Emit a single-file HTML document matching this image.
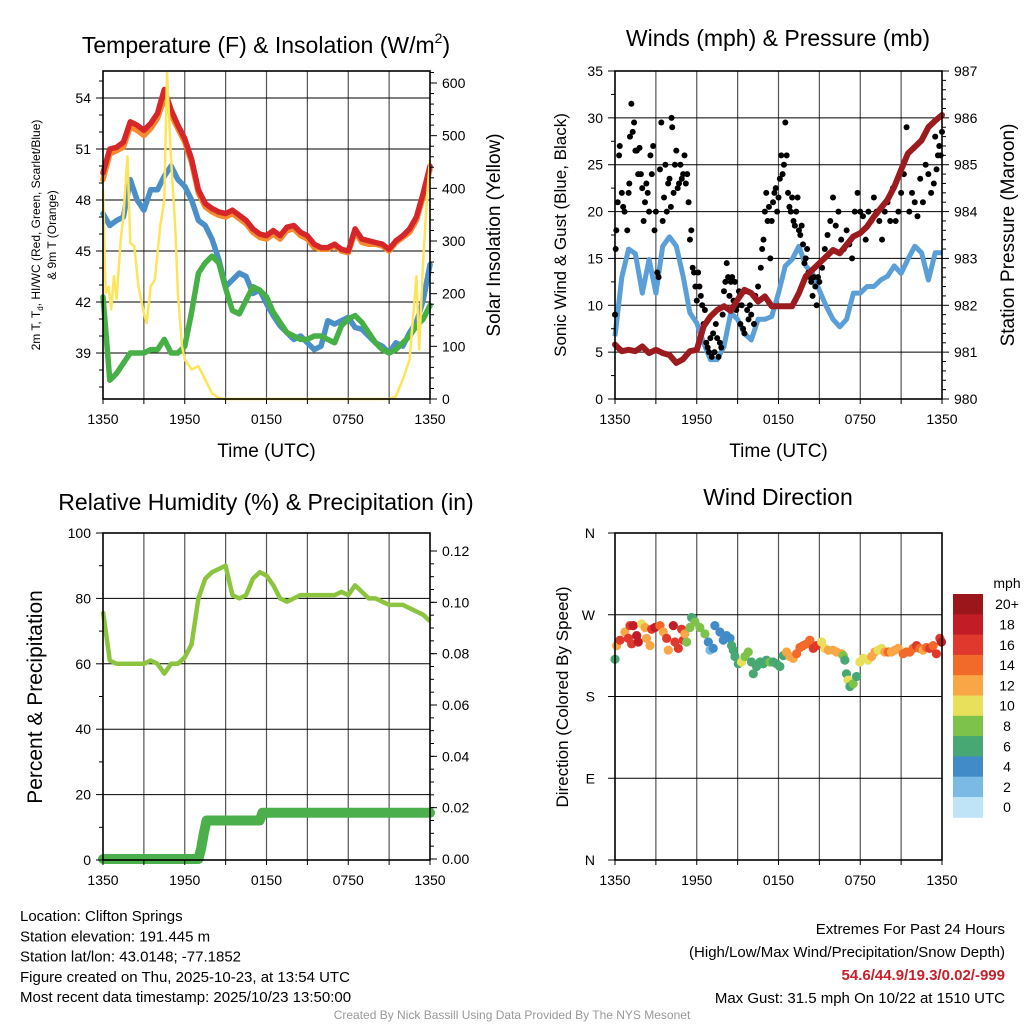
<!DOCTYPE html>
<html><head><meta charset="utf-8"><style>
html,body{margin:0;padding:0;background:#fff;}
svg{display:block;font-family:"Liberation Sans",Arial,sans-serif;}
</style></head><body>
<svg id="chart" width="1024" height="1024" viewBox="0 0 1024 1024" xmlns="http://www.w3.org/2000/svg"></svg>
<script>
// ---------- DATA ----------
const halfHours = [0,0.5,1,1.5,2,2.5,3,3.5,4,4.5,5,5.5,6,6.5,7,7.5,8,8.5,9,9.5,10,10.5,11,11.5,12,12.5,13,13.5,14,14.5,15,15.5,16,16.5,17,17.5,18,18.5,19,19.5,20,20.5,21,21.5,22,22.5,23,23.5,24];
const timeTickHours = [0,6,12,18,24];
const timeTickLabels = ["1350","1950","0150","0750","1350"];
const tempRed = [49.6,51,51.1,51.4,52.6,52.4,52.1,52.5,53.1,54.5,53.3,52.4,51.6,50.4,48.6,47.8,47.5,47.3,47.2,47.4,47.1,46.8,46.3,46.0,45.9,46.2,45.9,46.4,46.5,46.1,45.9,45.4,45.2,45.2,45.4,45.1,45.0,46.3,45.7,45.6,45.5,45.4,45.1,45.6,45.9,46.3,47.0,48.4,50.0];
const tempOrange = [49.2,50.7,50.9,51.1,52.3,52.1,51.8,52.2,52.8,54.0,53.0,52.2,51.4,50.2,48.4,47.6,47.3,47.1,47.0,47.2,46.9,46.6,46.1,45.8,45.7,46.0,45.7,46.2,46.3,45.9,45.7,45.2,45.1,45.1,45.3,45.0,44.9,46.1,45.5,45.4,45.4,45.3,45.0,45.5,45.8,46.1,46.8,48.2,49.8];
const tempBlue = [47.2,46.5,46.8,47.0,49.2,48.0,47.4,48.6,48.6,49.4,50.0,49.2,48.8,48.0,46.8,46.5,45.7,44.5,42.9,43.3,43.7,43.5,42.5,42.7,41.9,41.2,40.6,40.2,39.8,40.0,39.6,39.2,39.4,40.9,40.7,40.9,41.1,40.5,40.4,40.0,39.6,39.4,39.0,39.6,39.4,40.2,40.8,42.1,44.2];
const tempGreen = [42.3,37.4,37.8,38.4,39.0,39.0,39.0,39.2,39.2,39.8,39.0,39.0,39.4,41.4,43.7,44.3,44.7,44.3,42.8,41.5,41.3,42.1,42.9,42.7,42.3,41.4,40.8,40.2,40.0,39.8,39.8,40.0,40.0,39.8,39.6,40.6,41.0,41.2,40.8,40.2,39.6,39.2,39.0,39.2,39.6,40.0,40.6,41.0,41.8];
const tempTicks = [39,42,45,48,51,54];
const solarTicks = [0,100,200,300,400,500,600];
const solarHours = [0,0.2,0.4,0.6,0.8,1,1.3,1.5,1.8,2,2.3,2.6,3,3.2,3.5,3.8,4,4.2,4.5,4.7,5,5.3,5.5,5.8,6,6.5,7,7.5,8,8.5,9,21,21.5,22,22.5,23,23.2,23.5,23.8,24];
const solarVals = [397,201,213,170,233,190,302,347,461,296,290,214,163,144,214,226,277,328,378,619,454,328,201,100,75,56,62,37,11,2,0,0,5,37,75,233,94,265,391,454];
const windHalfHour = [6.7,13,16,15.5,11.3,14.9,11.3,16.3,17.3,16.3,13.1,9.2,8.1,6,4.2,4.2,5.6,9.2,8.5,7,6.3,8.5,8.5,8.8,11.3,14.2,14.9,16.3,14.2,13.4,11.6,9.9,8.5,7.7,8.5,11.3,11.3,12,12,12.7,13.1,14.2,13.4,14.9,16.3,15.6,12.7,15.6,15.6];
const pressure = [981.16,981.02,981.05,981.02,981.12,980.98,981.05,980.98,980.94,980.77,980.85,981.02,981.05,981.55,981.76,981.9,981.98,981.88,982.12,982.33,982.26,982.08,982.19,981.98,981.98,981.98,981.98,982.26,982.62,982.76,982.9,983.04,983.18,983.11,983.29,983.47,983.54,983.68,983.89,984.07,984.25,984.53,984.89,985.24,985.38,985.52,985.80,985.94,986.06];
const windTicks = [0,5,10,15,20,25,30,35];
const pressTicks = [980,981,982,983,984,985,986,987];
const gustHours = [0,0.05,0.1,0.2,0.3,0.35,0.5,0.6,0.7,0.9,1.0,1.05,1.1,1.2,1.3,1.4,1.5,1.6,1.7,1.8,1.9,2.0,2.1,2.2,2.3,2.4,2.5,2.6,2.7,2.8,2.9,3.0,3.1,3.2,3.3,3.4,3.5,3.6,3.7,3.8,3.9,4.0,4.1,4.15,4.2,4.3,4.4,4.5,4.6,4.7,4.8,4.9,5.0,5.1,5.2,5.3,5.4,5.5,5.6,5.7,5.8,5.9,6.0,6.1,6.2,6.3,6.4,6.5,6.6,6.7,6.8,6.9,7.0,7.1,7.2,7.3,7.4,7.5,7.6,7.7,7.8,7.9,8.0,8.1,8.2,8.3,8.4,8.5,8.6,8.7,8.8,8.9,9.0,9.1,9.2,9.3,9.4,9.5,9.6,9.7,9.8,9.9,10.0,10.2,10.3,10.5,10.7,10.8,10.9,11.0,11.1,11.2,11.3,11.4,11.5,11.6,11.7,11.8,11.9,12.0,12.1,12.2,12.3,12.4,12.5,12.6,12.7,12.8,12.9,13.0,13.1,13.2,13.3,13.4,13.5,13.6,13.7,13.8,13.9,14.0,14.1,14.2,14.3,14.4,14.5,14.6,14.7,14.8,14.9,15.0,15.2,15.4,15.6,15.8,16.0,16.2,16.4,16.6,16.8,17.0,17.2,17.4,17.6,17.8,18.0,18.2,18.4,18.6,18.8,19.0,19.2,19.4,19.6,19.8,20.0,20.2,20.4,20.6,20.8,21.0,21.2,21.4,21.6,21.8,22.0,22.2,22.4,22.6,22.8,23.0,23.2,23.4,23.5,23.6,23.7,23.8,23.9,24.0];
const gustVals = [9,16,18,21,26,27,22,20.5,20,18,22,23,28,31.5,28.5,29.5,26.5,26.5,24,26.8,24,22.5,19,21,23,22,20,26,24,27,18,20,13.5,13,24.5,29.5,19,21.5,25,20,23,23.5,20.5,30,29,22,25,26.5,22.5,23,25,23.5,24,26,23,24,21,17,18,14,13.5,12,10.5,13.5,12,11,10,8,9.5,6,5.5,5,6.5,4.5,7,5,8,6.5,4.5,6,5.5,9,11.5,12.5,14.5,13,11,12.5,13,10.5,12.5,9.5,10,11.5,8,10,7.5,7,11.5,9.5,8.5,10,9,8,11,12,14,16,17,20,22,19,20.5,15,19,21,22,22.5,20,21.5,23.5,26,24,25,29.5,26,22,20.5,20,21.5,19,18.5,20,21.5,18,17.5,18.5,16.5,14.5,15,16,13.5,13,12.5,11,13,12,10,13,12.5,14,16,17.5,19,21.5,18.5,20,17,16,18,16.5,15,20,22,20,19.5,17,20,19,21.5,20,19,17,20,21,19,22.5,19,20,22,24,29,20,22,21,19.5,23.5,21,25,24,22,23,28,24.5,26,27,26,28.5];
const rhVals = [76,61,60,60,60,60,60,61,60,57,60,60,62,66,80,86,88,89,90,81,80,81,86,88,87,84,80,79,80,81,81,81,81,81,81,82,81,84,82,80,80,79,78,78,78,77,76,75,73];
const precipHours = [0,7.0,7.2,7.4,7.6,11.5,11.7,24];
const precipVals = [0,0,0.004,0.01,0.015,0.015,0.018,0.018];
const rhTicks = [0,20,40,60,80,100];
const precipTicks = [0,0.02,0.04,0.06,0.08,0.10,0.12];
const precipTickLabels = ["0.00","0.02","0.04","0.06","0.08","0.10","0.12"];
const dirHours = [0,0.12,0.37,0.73,1.1,1.34,0.98,1.22,1.59,1.71,1.96,2.2,2.32,2.57,2.69,2.93,3.3,3.55,3.79,3.91,4.28,4.4,4.65,4.89,5.01,5.26,5.13,5.5,5.62,5.87,6.23,6.6,6.85,6.97,7.21,7.33,7.7,7.95,8.19,8.44,8.56,8.68,8.8,9.05,9.29,9.54,9.78,10.02,10.15,10.39,10.64,10.88,11.12,11.37,11.61,11.86,12.1,12.35,12.59,12.84,13.08,13.33,13.57,13.81,14.06,14.3,14.55,14.79,15.16,15.4,15.65,16.01,16.26,16.63,16.75,16.87,16.99,17.11,17.24,17.48,17.73,17.97,18.22,18.58,18.83,19.07,19.32,19.56,19.8,20.05,20.29,20.54,20.78,21.15,21.39,21.64,21.88,22.13,22.37,22.62,22.86,23.1,23.35,23.59,23.84,23.96];
const dirVals = [221,236,242,251,258,258,244,238,247,240,260,256,244,236,254,256,258,251,244,231,258,240,233,254,242,240,249,256,267,262,256,249,240,231,233,258,251,242,247,244,236,231,224,216,218,224,229,218,205,213,218,216,220,218,218,216,213,225,229,224,222,227,234,236,238,242,233,236,240,233,231,231,229,227,225,220,205,198,191,194,202,218,222,220,224,229,231,233,229,229,229,231,233,227,229,229,233,236,233,231,234,233,236,227,244,240];
const dirSpeeds = [7,12,17,13,17,18,16,17,19,18,10,13,12,12,17,18,14,13,16,12,18,17,16,17,16,8,12,8,7,8,8,8,4,3,4,4,4,4,4,4,6,6,6,6,10,8,8,6,7,6,6,6,6,8,6,6,6,6,12,13,13,14,15,15,14,15,17,16,10,11,13,12,13,12,8,6,6,10,7,8,7,10,10,11,12,12,11,10,13,14,12,12,13,14,14,15,14,16,15,13,14,17,14,16,17,18];
const dirTicks = [0,90,180,270,360];
const dirTickLabels = ["N","E","S","W","N"];
const speedBinLabels = ["0","2","4","6","8","10","12","14","16","18","20+"];
const speedBinColors = ["#bfe4f7","#7cbae6","#418bc8","#47a874","#7dc24b","#e8e05a","#f8a646","#f26a2a","#e0382c","#c21d26","#9a161b"];

// ---------- HELPERS ----------
const svg = document.getElementById('chart');
const NS = "http://www.w3.org/2000/svg";
function mk(tag, attrs, parent){
  const e = document.createElementNS(NS, tag);
  for (const k in attrs) e.setAttribute(k, attrs[k]);
  (parent||svg).appendChild(e);
  return e;
}
function txt(s, x, y, size, anchor, parent, extra){
  const t = mk('text', Object.assign({x:x, y:y, 'font-size':size, 'text-anchor':anchor||'middle', fill:'#000'}, extra||{}), parent);
  t.textContent = s;
  return t;
}
function linePath(xs, ys, fx, fy){
  let d = '';
  for (let i=0;i<xs.length;i++) d += (i?'L':'M') + fx(xs[i]).toFixed(1) + ' ' + fy(ys[i]).toFixed(1);
  return d;
}
function frame(L,T,R,B,vLines,hYs,g){
  for (const x of vLines){
    const ln = mk('line',{x1:x,x2:x,y1:T,y2:B,stroke:'#555','stroke-width':1.2},g);
    
    
  }
  for (const y of hYs){
    const ln = mk('line',{x1:L,x2:R,y1:y,y2:y,stroke:'#000','stroke-width':1},g);
    
    
  }
}
function border(L,T,R,B,g){
  const r = mk('rect',{x:L,y:T,width:R-L,height:B-T,fill:'none',stroke:'#000','stroke-width':1.6},g);
  
  
}
function timeAxis(L,R,B,g,fx,showTitle){
  for (let h=0;h<=24;h+=3){
    mk('line',{x1:fx(h),x2:fx(h),y1:B,y2:B+5,stroke:'#000','stroke-width':1},g);
  }
  timeTickHours.forEach((h,i)=>{
    const t = txt(timeTickLabels[i], fx(h), B+25, 14, 'middle', g);
    
    
  });
  if (showTitle){
    const t = txt('Time (UTC)', (L+R)/2, B+58, 19, 'middle', g);
    
    
  }
}

// ================= PANEL 1: Temperature =================
(function(){
  const L=103,R=430,T=71,B=399;
  const g = mk('g',{});
  
  
  const fx = h => L + h*(R-L)/24;
  const fyT = v => 98 + (54-v)*17.0;
  const fyS = v => 399 - v*(399-83)/600;
  const t1 = txt('', 266, 53, 23, 'middle', g);
  
  
  t1.innerHTML = 'Temperature (F) &amp; Insolation (W/m<tspan font-size="14" dy="-10">2</tspan><tspan dy="10">)</tspan>';
  const vl=[]; for(let h=3;h<24;h+=3) vl.push(fx(h));
  frame(L,T,R,B,vl,tempTicks.map(fyT),g);
  const series = [[tempOrange,'#f58a2e','orange-9m-temp-line'],[tempRed,'#d7262a','red-2m-temp-line'],[tempBlue,'#4a8fc8','blue-heat-index-line'],[tempGreen,'#46b046','green-dewpoint-line']];
  for (const s of series){
    const p = mk('path',{d:linePath(halfHours,s[0],fx,fyT),fill:'none',stroke:s[1],'stroke-width':5.5,'stroke-linejoin':'round','stroke-linecap':'round'},g);
    
    
  }
  const sp = mk('path',{d:linePath(solarHours,solarVals,fx,fyS),fill:'none',stroke:'#fde45a','stroke-width':2.5,'stroke-linejoin':'round'},g);
  
  
  border(L,T,R,B,g);
  for (let v=37; v<=55; v++){ const y=fyT(v); if(y>T&&y<B) mk('line',{x1:L-(tempTicks.includes(v)?7:4),x2:L,y1:y,y2:y,stroke:'#000'},g); }
  tempTicks.forEach(v=>{const t=txt(String(v),L-12,fyT(v)+5,14,'end',g);  });
  for (let v=0; v<=620; v+=20){ const y=fyS(v); if(y>T&&y<=B) mk('line',{x1:R,x2:R+(v%100==0?7:4),y1:y,y2:y,stroke:'#000'},g); }
  solarTicks.forEach(v=>{const t=txt(String(v),R+12,fyS(v)+5,14,'start',g);  });
  timeAxis(L,R,B,g,fx,true);
  const yl = mk('text',{transform:'translate(40,235) rotate(-90)','font-size':12,'text-anchor':'middle'},g);
  
  
  yl.innerHTML = '2m T, T<tspan font-size="8" dy="3">d</tspan><tspan dy="-3">, HI/WC (Red, Green, Scarlet/Blue)</tspan>';
  const yl2 = mk('text',{transform:'translate(56,235) rotate(-90)','font-size':12,'text-anchor':'middle'},g);
  yl2.textContent='& 9m T (Orange)';
  
  
  const yr = mk('text',{transform:'translate(500,235) rotate(-90)','font-size':19,'text-anchor':'middle'},g);
  yr.textContent='Solar Insolation (Yellow)';
  
  
})();

// ================= PANEL 2: Winds =================
(function(){
  const L=615,R=942,T=71,B=399;
  const g = mk('g',{});
  
  
  const fx = h => L + h*(R-L)/24;
  const fyW = v => B - v*(B-T)/35;
  const fyP = v => B - (v-980)*(B-T)/7;
  const t1 = txt('Winds (mph) & Pressure (mb)', 778, 46, 23, 'middle', g);
  
  
  const vl=[]; for(let h=3;h<24;h+=3) vl.push(fx(h));
  frame(L,T,R,B,vl,windTicks.slice(1,-1).map(fyW),g);
  const wp = mk('path',{d:linePath(halfHours,windHalfHour,fx,fyW),fill:'none',stroke:'#5a9fd8','stroke-width':5,'stroke-linejoin':'round'},g);
  
  
  gustHours.forEach((h,i)=>{
    const c = mk('circle',{cx:fx(h),cy:fyW(gustVals[i]),r:3,fill:'#000'},g);
    
    
  });
  const pp = mk('path',{d:linePath(halfHours,pressure,fx,fyP),fill:'none',stroke:'#9b1b1e','stroke-width':6,'stroke-linejoin':'round','stroke-linecap':'round'},g);
  
  
  border(L,T,R,B,g);
  for (let v=0; v<=35; v+=2.5){ const y=fyW(v); mk('line',{x1:L-(v%5==0?7:4),x2:L,y1:y,y2:y,stroke:'#000'},g); }
  windTicks.forEach(v=>{const t=txt(String(v),L-12,fyW(v)+5,14,'end',g);  });
  for (let v=980; v<=987.001; v+=0.2){ const y=fyP(v); mk('line',{x1:R,x2:R+(Math.abs(v-Math.round(v))<0.01?7:4),y1:y,y2:y,stroke:'#000'},g); }
  pressTicks.forEach(v=>{const t=txt(String(v),R+12,fyP(v)+5,14,'start',g);  });
  timeAxis(L,R,B,g,fx,true);
  const yl = mk('text',{transform:'translate(566,235) rotate(-90)','font-size':17,'text-anchor':'middle'},g);
  yl.textContent='Sonic Wind & Gust (Blue, Black)';
  
  
  const yr = mk('text',{transform:'translate(1014,235) rotate(-90)','font-size':19,'text-anchor':'middle'},g);
  yr.textContent='Station Pressure (Maroon)';
  
  
})();

// ================= PANEL 3: RH & Precip =================
(function(){
  const L=103,R=430,T=533,B=860;
  const g = mk('g',{});
  
  
  const fx = h => L + h*(R-L)/24;
  const fyR = v => B - v*(B-T)/100;
  const fyP = v => 859 - v*(859-551)/0.12;
  const t1 = txt('Relative Humidity (%) & Precipitation (in)', 266, 510, 23, 'middle', g);
  
  
  const vl=[]; for(let h=3;h<24;h+=3) vl.push(fx(h));
  frame(L,T,R,B,vl,rhTicks.slice(1,-1).map(fyR),g);
  const pp = mk('path',{d:linePath(precipHours,precipVals,fx,fyP),fill:'none',stroke:'#4bb04b','stroke-width':10,'stroke-linejoin':'round','stroke-linecap':'round'},g);
  
  
  const rp = mk('path',{d:linePath(halfHours,rhVals,fx,fyR),fill:'none',stroke:'#8cc43f','stroke-width':4.5,'stroke-linejoin':'round'},g);
  
  
  border(L,T,R,B,g);
  for (let v=0; v<=100; v+=10){ const y=fyR(v); mk('line',{x1:L-(v%20==0?7:4),x2:L,y1:y,y2:y,stroke:'#000'},g); }
  rhTicks.forEach(v=>{const t=txt(String(v),L-12,fyR(v)+5,14,'end',g);  });
  for (let v=0; v<=0.125; v+=0.005){ const y=fyP(v); if(y>=T) mk('line',{x1:R,x2:R+4,y1:y,y2:y,stroke:'#000'},g); }
  precipTicks.forEach((v,i)=>{ mk('line',{x1:R,x2:R+7,y1:fyP(v),y2:fyP(v),stroke:'#000'},g); const t=txt(precipTickLabels[i],R+12,fyP(v)+5,14,'start',g);  });
  timeAxis(L,R,B,g,fx,false);
  const yl = mk('text',{transform:'translate(42,697) rotate(-90)','font-size':21,'text-anchor':'middle'},g);
  yl.textContent='Percent & Precipitation';
  
  
})();

// ================= PANEL 4: Wind Direction =================
(function(){
  const L=615,R=942,T=533,B=860;
  const g = mk('g',{});
  
  
  const fx = h => L + h*(R-L)/24;
  const fyD = v => B - v*(B-T)/360;
  const t1 = txt('Wind Direction', 778, 505, 23, 'middle', g);
  
  
  const vl=[]; for(let h=3;h<24;h+=3) vl.push(fx(h));
  frame(L,T,R,B,vl,dirTicks.slice(1,-1).map(fyD),g);
  dirHours.forEach((h,i)=>{
    const bin = Math.min(10, Math.floor(dirSpeeds[i]/2));
    const c = mk('circle',{cx:fx(h),cy:fyD(dirVals[i]),r:4.6,fill:speedBinColors[bin]},g);
    
    
  });
  border(L,T,R,B,g);
  dirTicks.forEach((v,i)=>{ mk('line',{x1:L-7,x2:L,y1:fyD(v),y2:fyD(v),stroke:'#000'},g); const t=txt(dirTickLabels[i],L-20,fyD(v)+5,14,'end',g);  });
  timeAxis(L,R,B,g,fx,false);
  const yl = mk('text',{transform:'translate(568,697) rotate(-90)','font-size':17,'text-anchor':'middle'},g);
  yl.textContent='Direction (Colored By Speed)';
  
  
  // colorbar
  const cb = mk('g',{},g);
  
  
  const bx=953,bw=30,top=594,bh=20.3;
  const u = txt('mph', 1007, 588, 14, 'middle', cb);
  
  
  for (let k=10;k>=0;k--){
    const y = top + (10-k)*bh;
    const r = mk('rect',{x:bx,y:y,width:bw,height:bh+0.5,fill:speedBinColors[k]},cb);
    
    
    const t = txt(speedBinLabels[k], 1007, y+bh/2+5, 14, 'middle', cb);
    
    
  }
})();

// ================= FOOTER =================
(function(){
  const g = mk('g',{});
  
  
  const left = ["Location: Clifton Springs","Station elevation: 191.445 m","Station lat/lon: 43.0148; -77.1852","Figure created on Thu, 2025-10-23, at 13:54 UTC","Most recent data timestamp: 2025/10/23 13:50:00"];
  left.forEach((s,i)=>{ const t=txt(s,20,921+i*20.3,15,'start',g);   });
  const a=txt('Extremes For Past 24 Hours',1005,934,15,'end',g);  
  const b=txt('(High/Low/Max Wind/Precipitation/Snow Depth)',1005,957,15,'end',g);  
  const c=txt('54.6/44.9/19.3/0.02/-999',1005,980,15,'end',g,{fill:'#c8202a','font-weight':'bold'});  
  const d=txt('Max Gust: 31.5 mph On 10/22 at 1510 UTC',1005,1003,15,'end',g);  
  const e=txt('Created By Nick Bassill Using Data Provided By The NYS Mesonet',512,1019,12,'middle',g,{fill:'#999'});  
})();
</script>
</body></html>
